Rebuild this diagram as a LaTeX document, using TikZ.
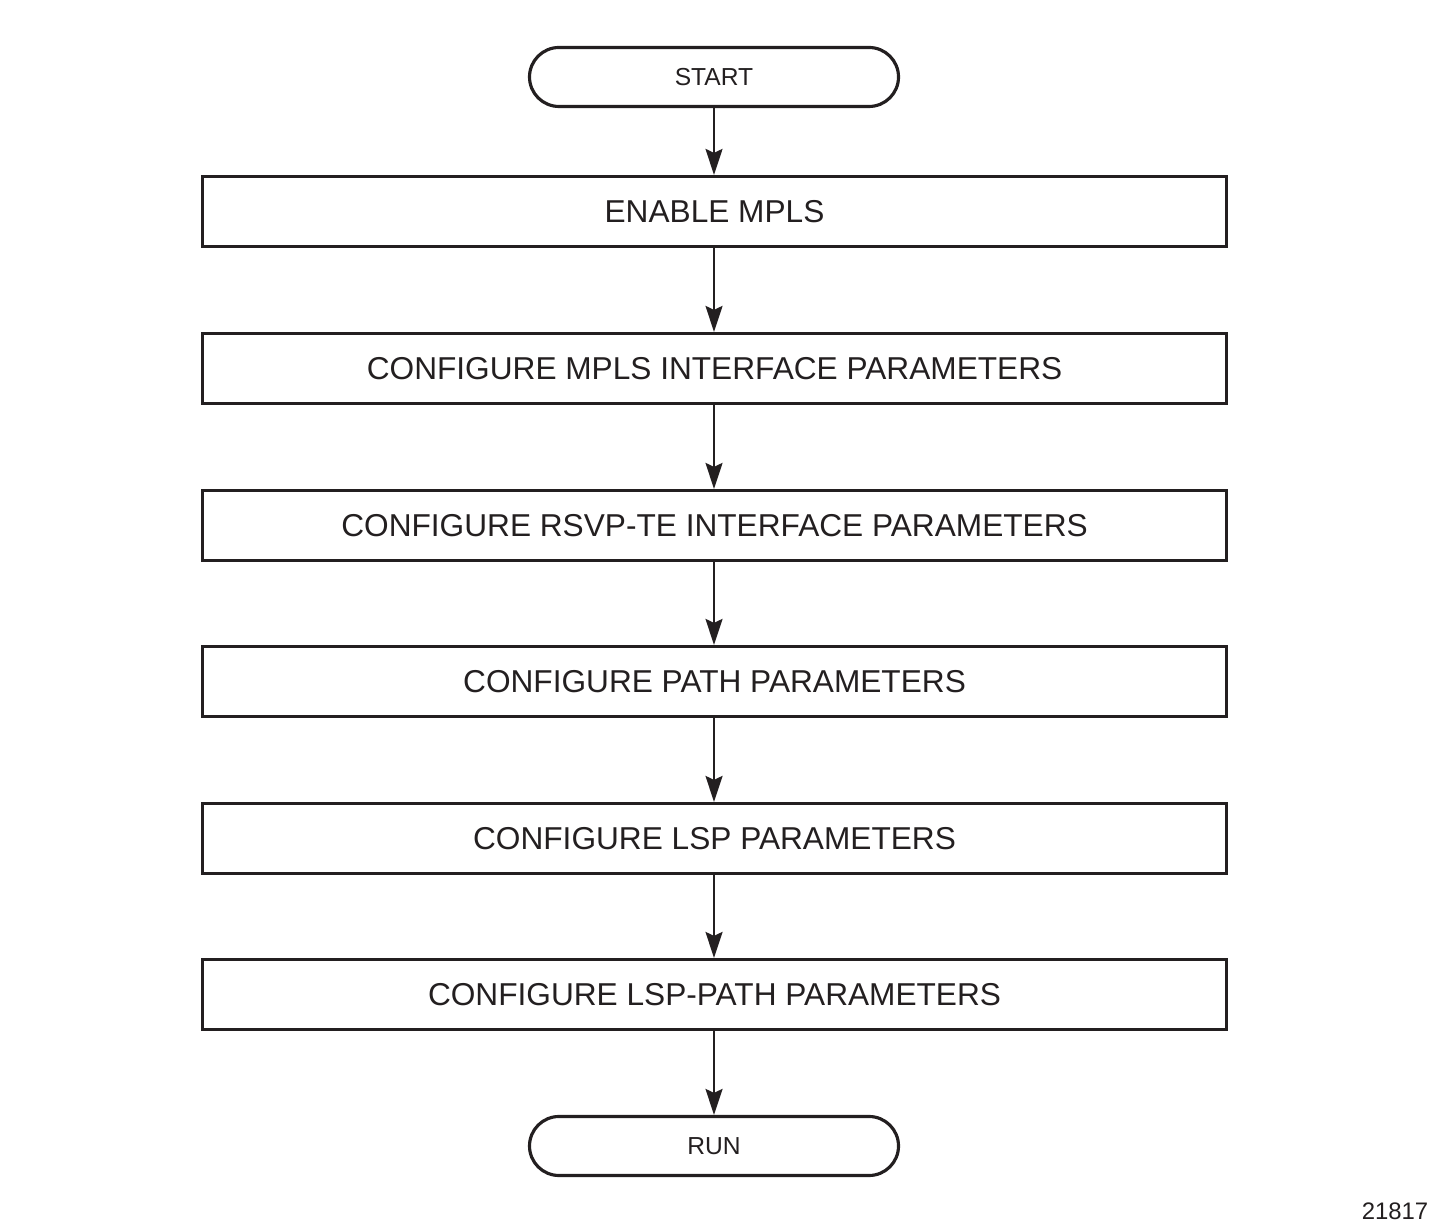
\documentclass[tikz,border=0pt]{standalone}
\usepackage{fontspec}
\setmainfont{Liberation Sans}
\usetikzlibrary{arrows.meta}
\definecolor{ink}{HTML}{231F20}
\begin{document}
\begin{tikzpicture}[
  stepbox/.style={draw=ink, text=ink, line width=0.9pt, minimum width=10.24cm, minimum height=0.70cm, inner sep=0pt, font=\fontsize{9}{10}\selectfont},
  endbox/.style={draw=ink, text=ink, line width=0.9pt, rounded corners=0.295cm, minimum width=3.69cm, minimum height=0.59cm, inner sep=0pt, font=\fontsize{7}{8}\selectfont},
  flow/.style={draw=ink, line width=0.6pt, -{Stealth[length=0.26cm, width=0.17cm, inset=0.04cm]}}]
\useasboundingbox (0,0) rectangle (14.35,12.30);
\node[endbox] (start) at (7.14, 11.53) {START};
\node[stepbox] (enable) at (7.145, 10.185) {ENABLE MPLS};
\node[stepbox] (mplsif) at (7.145, 8.615) {CONFIGURE MPLS INTERFACE PARAMETERS};
\node[stepbox] (rsvpif) at (7.145, 7.045) {CONFIGURE RSVP-TE INTERFACE PARAMETERS};
\node[stepbox] (path) at (7.145, 5.485) {CONFIGURE PATH PARAMETERS};
\node[stepbox] (lsp) at (7.145, 3.915) {CONFIGURE LSP PARAMETERS};
\node[stepbox] (lsppath) at (7.145, 2.355) {CONFIGURE LSP-PATH PARAMETERS};
\node[endbox] (run) at (7.14, 0.84) {RUN};
\node[text=ink, font=\fontsize{6.8}{8}\selectfont] (figno) at (13.95, 0.19) {21817};
\draw[flow] (start.south -| 7.14,0) -- (enable.north -| 7.14,0);
\draw[flow] (enable.south -| 7.14,0) -- (mplsif.north -| 7.14,0);
\draw[flow] (mplsif.south -| 7.14,0) -- (rsvpif.north -| 7.14,0);
\draw[flow] (rsvpif.south -| 7.14,0) -- (path.north -| 7.14,0);
\draw[flow] (path.south -| 7.14,0) -- (lsp.north -| 7.14,0);
\draw[flow] (lsp.south -| 7.14,0) -- (lsppath.north -| 7.14,0);
\draw[flow] (lsppath.south -| 7.14,0) -- (run.north -| 7.14,0);
\end{tikzpicture}
\end{document}
